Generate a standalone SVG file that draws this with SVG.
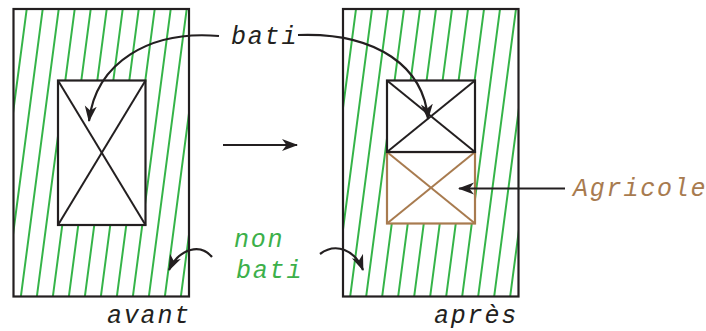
<svg xmlns="http://www.w3.org/2000/svg" width="706" height="331" viewBox="0 0 706 331">
<style>
.frame{fill:none;stroke:#231f20;stroke-width:2.2}
.box{fill:#fff;stroke:#231f20;stroke-width:2.2}
.agri{fill:#fff;stroke:#a87b4f;stroke-width:2.2}
.xk{stroke:#231f20;stroke-width:2}
.xb{stroke:#a87b4f;stroke-width:2}
.arr{fill:none;stroke:#231f20;stroke-width:2.2;marker-end:url(#stealth)}
.t{font-family:"Liberation Mono","DejaVu Sans Mono",monospace;font-style:italic;font-size:25px;letter-spacing:1.8px}
.k{fill:#231f20}
.g{fill:#3cb04a}
.b{fill:#a87b4f}
</style>
<defs>
<marker id="stealth" markerUnits="userSpaceOnUse" markerWidth="18" markerHeight="14" refX="15" refY="6" orient="auto" viewBox="0 0 18 12">
<path d="M0,0 L16,6 L0,12 L4.5,6 z" fill="#231f20"/>
</marker>
<pattern id="hatchL" patternUnits="userSpaceOnUse" x="3.9" y="0" width="16" height="40" patternTransform="skewX(-7.5)">
<line x1="8" y1="-2" x2="8" y2="42" stroke="#35b448" stroke-width="2"/>
</pattern>
<pattern id="hatchR" patternUnits="userSpaceOnUse" x="349.2" y="0" width="16" height="40" patternTransform="skewX(-7.5)">
<line x1="8" y1="-2" x2="8" y2="42" stroke="#35b448" stroke-width="2"/>
</pattern>
</defs>

<g id="avant-parcelle">
<rect x="13.5" y="9" width="175.5" height="287.5" fill="url(#hatchL)"/>
<rect class="frame" x="13.5" y="9" width="175.5" height="287.5"/>
</g>
<g id="avant-bati">
<rect class="box" x="58" y="80.5" width="87.5" height="144.5"/>
<line class="xk" x1="58" y1="80.5" x2="145.5" y2="225"/>
<line class="xk" x1="145.5" y1="80.5" x2="58" y2="225"/>
</g>

<g id="apres-parcelle">
<rect x="343" y="9" width="175.5" height="287.5" fill="url(#hatchR)"/>
<rect class="frame" x="343" y="9" width="175.5" height="287.5"/>
</g>
<g id="apres-agricole">
<rect class="agri" x="387" y="152" width="88" height="71.5"/>
<line class="xb" x1="387" y1="152" x2="475" y2="223.5"/>
<line class="xb" x1="475" y1="152" x2="387" y2="223.5"/>
</g>
<g id="apres-bati">
<rect class="box" x="387" y="80.5" width="88" height="71.5"/>
<line class="xk" x1="387" y1="80.5" x2="475" y2="152"/>
<line class="xk" x1="475" y1="80.5" x2="387" y2="152"/>
</g>

<g id="labels">
<text class="t k" x="231" y="44">bati</text>
<text class="t g" x="234" y="247">non</text>
<text class="t g" x="236" y="278">bati</text>
<text class="t k" x="107" y="323">avant</text>
<text class="t k" x="434" y="323">après</text>
<text class="t b" x="573" y="196">Agricole</text>
</g>

<g id="connectors">
<path class="arr" d="M219,36 C150,30 96,62 89,121"/>
<path class="arr" d="M298,35 C378,32 424,68 428,119"/>
<path class="arr" d="M223,145 L297,145"/>
<path class="arr" d="M565,188.5 L459,188.5"/>
<path class="arr" d="M212,257 C201,244 180,247 169,270"/>
<path class="arr" d="M320,254 C336,242 355,250 363,270"/>
</g>
</svg>
